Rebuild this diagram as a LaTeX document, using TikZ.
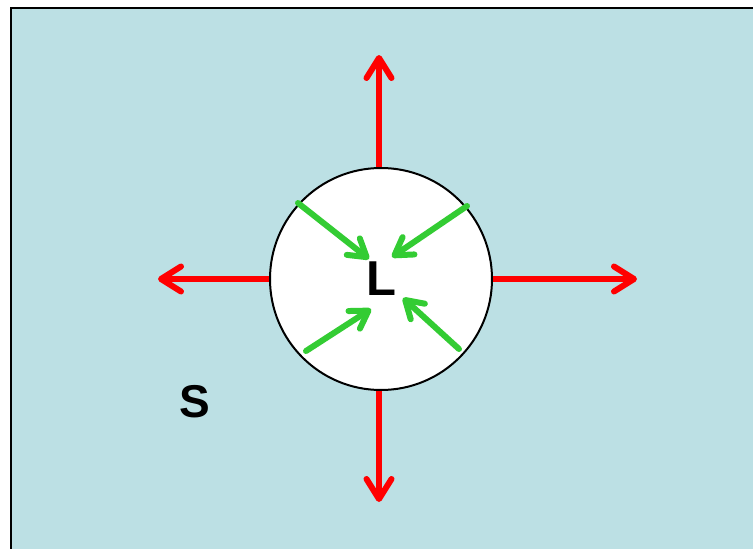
\documentclass[tikz,border=0pt]{standalone}
\usepackage{fontspec}
\setmainfont{Liberation Sans}
\usepackage{tikz}
\usetikzlibrary{arrows.meta}
\definecolor{pool}{HTML}{BCE0E4}
\definecolor{outc}{HTML}{FF0000}
\definecolor{inc}{HTML}{33CC33}

\begin{document}
\begin{tikzpicture}[
  x=1pt, y=-1pt,
  drop/.style={circle, draw=black, line width=2pt, fill=white, minimum size=222pt,
               inner sep=0pt, font=\fontsize{49}{51}\selectfont\bfseries},
  outarrow/.style={outc, line width=6pt,
                   -{Straight Barb[length=20pt, width=25pt, round]}},
  inarrow/.style={inc, line width=6pt, line cap=round,
                  -{Straight Barb[length=17pt, width=21pt, round]}},
  lbl/.style={font=\fontsize{46}{48}\selectfont\bfseries}
]
\useasboundingbox (0,0) rectangle (753,549);
\fill[white] (0,0) rectangle (753,549);
\clip (0,0) rectangle (753,549);
% the surrounding phase, running off the page to the right and below
\draw[fill=pool, line width=2pt] (11,8) rectangle (770,570);

\node[drop] (L) at (381,279) {L};
\node[lbl] (S) at (195,402) {S};

% outward flux
\coordinate (top) at (379,55);
\coordinate (bot) at (379,502);
\coordinate (lft) at (158,279);
\coordinate (rgt) at (637,279);
\draw[outarrow] (L.north -| top) -- (top);
\draw[outarrow] (L.south -| bot) -- (bot);
\draw[outarrow] (L.west) -- (lft);
\draw[outarrow] (L.east) -- (rgt);

% inward flux
\coordinate (a1) at (298,203);  \coordinate (b1) at (369,259);
\coordinate (a2) at (467,206);  \coordinate (b2) at (392,257);
\coordinate (a3) at (306,351);  \coordinate (b3) at (371,309);
\coordinate (a4) at (459,349);  \coordinate (b4) at (403,298);
\foreach \i in {1,...,4}
  \draw[inarrow] (a\i) -- (b\i);
\end{tikzpicture}
\end{document}
